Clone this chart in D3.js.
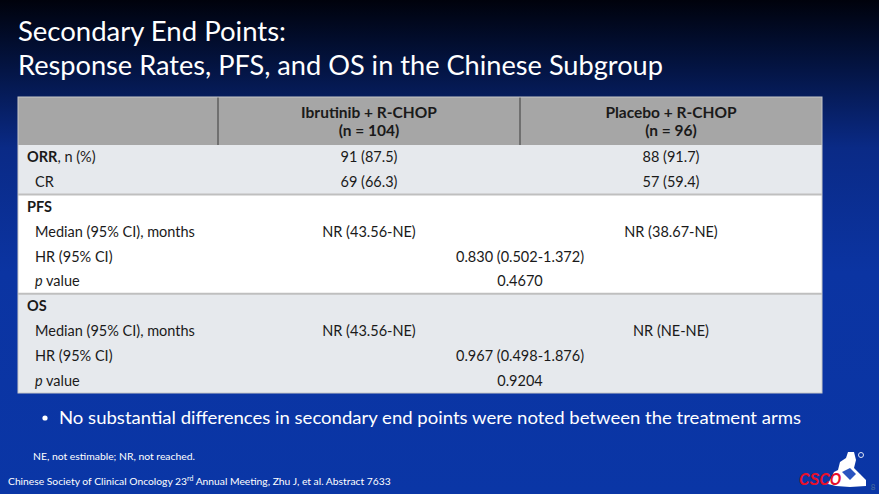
<!DOCTYPE html>
<html>
<head>
<meta charset="utf-8">
<script src="https://cdn.jsdelivr.net/npm/d3@7"></script>
<style>
  body { margin: 0; background: #000; }
  svg { display: block; font-family: Lato, "Open Sans", sans-serif; }
</style>
</head>
<body>
<svg id="slide"></svg>
<script>
var width = 879, height = 494;

// table content
var armNames = ["Ibrutinib + R-CHOP", "Placebo + R-CHOP"];
var armN = ["(n = 104)", "(n = 96)"];
var rowIds = ["orr", "cr", "pfs", "pfsMed", "pfsHr", "pfsP", "os", "osMed", "osHr", "osP"];
var rowLabels = ["ORR", "CR", "PFS", "Median (95% CI), months", "HR (95% CI)", "p value",
                 "OS", "Median (95% CI), months", "HR (95% CI)", "p value"];
var orrVals = ["91 (87.5)", "88 (91.7)"];
var crVals = ["69 (66.3)", "57 (59.4)"];
var pfsMedian = ["NR (43.56-NE)", "NR (38.67-NE)"];
var pfsHR = "0.830 (0.502-1.372)";
var pfsP = "0.4670";
var osMedian = ["NR (43.56-NE)", "NR (NE-NE)"];
var osHR = "0.967 (0.498-1.876)";
var osP = "0.9204";
var sections = [["orr", "cr"], ["pfs", "pfsMed", "pfsHr", "pfsP"], ["os", "osMed", "osHr", "osP"]];

var svg = d3.select("#slide")
    .attr("width", width)
    .attr("height", height);

var defs = svg.append("defs");
var grad = defs.append("linearGradient")
    .attr("id", "bg")
    .attr("x1", 0).attr("y1", 0).attr("x2", 0).attr("y2", 1);
grad.append("stop").attr("offset", "0%").attr("stop-color", "#00020c");
grad.append("stop").attr("offset", "12%").attr("stop-color", "#03123c");
grad.append("stop").attr("offset", "30%").attr("stop-color", "#0a2a86");
grad.append("stop").attr("offset", "55%").attr("stop-color", "#0b34a2");
grad.append("stop").attr("offset", "100%").attr("stop-color", "#0a36a6");

svg.append("rect")
    .attr("width", width)
    .attr("height", height)
    .attr("fill", "url(#bg)");

// title
svg.append("text")
    .attr("x", 18).attr("y", 41)
    .attr("fill", "#fff")
    .style("font-size", "26px")
    .attr("textLength", 268).attr("lengthAdjust", "spacingAndGlyphs")
    .text("Secondary End Points:");
svg.append("text")
    .attr("x", 18).attr("y", 75)
    .attr("fill", "#fff")
    .style("font-size", "26px")
    .attr("textLength", 645).attr("lengthAdjust", "spacingAndGlyphs")
    .text("Response Rates, PFS, and OS in the Chinese Subgroup");

// table geometry via scales
var colEdges = [18, 218, 520, 822];
var y = d3.scaleBand().domain(rowIds).range([145, 393]);
var headTop = 97;
var fs = "14.5px";

var table = svg.append("g").attr("class", "table");

// header
table.append("rect")
    .attr("x", colEdges[0]).attr("y", headTop)
    .attr("width", colEdges[3] - colEdges[0]).attr("height", y.range()[0] - headTop)
    .attr("fill", "#a6a6a6");
table.selectAll("line.div")
    .data([colEdges[1], colEdges[2]])
    .enter().append("line")
    .attr("class", "div")
    .attr("x1", function(d) { return d; }).attr("x2", function(d) { return d; })
    .attr("y1", headTop).attr("y2", y.range()[0])
    .attr("stroke", "#3a3a3a").attr("stroke-width", 1);

var colCenter = function(i) { return (colEdges[i + 1] + colEdges[i + 2]) / 2; };

var head = table.selectAll("g.head")
    .data(armNames)
    .enter().append("g")
    .attr("class", "head");
head.append("text")
    .attr("x", function(d, i) { return colCenter(i); })
    .attr("y", 118)
    .attr("text-anchor", "middle")
    .attr("fill", "#1a1a1a")
    .style("font-size", "15.5px").style("font-weight", "bold")
    .text(function(d) { return d; });
head.append("text")
    .attr("x", function(d, i) { return colCenter(i); })
    .attr("y", 136)
    .attr("text-anchor", "middle")
    .attr("fill", "#1a1a1a")
    .style("font-size", "15.5px").style("font-weight", "bold")
    .text(function(d, i) { return armN[i]; });

// section backgrounds
var secFill = ["#e6e9ed", "#ffffff", "#e6e9ed"];
table.selectAll("rect.sec")
    .data(sections)
    .enter().append("rect")
    .attr("class", "sec")
    .attr("x", colEdges[0])
    .attr("y", function(d) { return y(d[0]); })
    .attr("width", colEdges[3] - colEdges[0])
    .attr("height", function(d) { return y.bandwidth() * d.length; })
    .attr("fill", function(d, i) { return secFill[i]; });

table.selectAll("line.sep")
    .data(sections.slice(1))
    .enter().append("line")
    .attr("class", "sep")
    .attr("x1", colEdges[0]).attr("x2", colEdges[3])
    .attr("y1", function(d) { return y(d[0]); })
    .attr("y2", function(d) { return y(d[0]); })
    .attr("stroke", "#bfbfbf").attr("stroke-width", 2);

table.append("rect")
    .attr("x", colEdges[0]).attr("y", headTop)
    .attr("width", colEdges[3] - colEdges[0]).attr("height", y.range()[1] - headTop)
    .attr("fill", "none")
    .attr("stroke", "#c8c8c8").attr("stroke-width", 1);

// row labels
var bold = { orr: true, pfs: true, os: true };
var labels = table.selectAll("text.lab")
    .data(rowIds)
    .enter().append("text")
    .attr("class", "lab")
    .attr("x", function(d) { return bold[d] ? 27 : 35; })
    .attr("y", function(d) { return y(d) + y.bandwidth() / 2 + 5; })
    .attr("fill", "#1a1a1a")
    .style("font-size", fs);
labels.each(function(d, i) {
    var t = d3.select(this);
    if (d === "orr") {
        t.append("tspan").style("font-weight", "bold").text(rowLabels[i]);
        t.append("tspan").text(", n (%)");
    } else if (d === "pfsP" || d === "osP") {
        t.append("tspan").style("font-style", "italic").text("p");
        t.append("tspan").text(" value");
    } else {
        t.text(rowLabels[i]);
        if (bold[d]) t.style("font-weight", "bold");
    }
});

// values
var cells = [];
[["orr", orrVals], ["cr", crVals], ["pfsMed", pfsMedian], ["osMed", osMedian]].forEach(function(r) {
    r[1].forEach(function(v, i) { cells.push({ row: r[0], x: colCenter(i), v: v }); });
});
[["pfsHr", pfsHR], ["pfsP", pfsP], ["osHr", osHR], ["osP", osP]].forEach(function(r) {
    cells.push({ row: r[0], x: colEdges[2], v: r[1] });
});
table.selectAll("text.val")
    .data(cells)
    .enter().append("text")
    .attr("class", "val")
    .attr("x", function(d) { return d.x; })
    .attr("y", function(d) { return y(d.row) + y.bandwidth() / 2 + 5; })
    .attr("text-anchor", "middle")
    .attr("fill", "#1a1a1a")
    .style("font-size", fs)
    .text(function(d) { return d.v; });

// bullet
svg.append("circle")
    .attr("cx", 45).attr("cy", 418).attr("r", 2.6)
    .attr("fill", "#fff");
svg.append("text")
    .attr("x", 59).attr("y", 424)
    .attr("fill", "#fff")
    .style("font-size", "17px")
    .attr("textLength", 742).attr("lengthAdjust", "spacingAndGlyphs")
    .text("No substantial differences in secondary end points were noted between the treatment arms");

// footnotes
svg.append("text")
    .attr("x", 33).attr("y", 460)
    .attr("fill", "#fff")
    .style("font-size", "9px")
    .attr("textLength", 162).attr("lengthAdjust", "spacingAndGlyphs")
    .text("NE, not estimable; NR, not reached.");

var cite = svg.append("text")
    .attr("x", 8).attr("y", 485)
    .attr("fill", "#fff")
    .style("font-size", "10.3px");
cite.append("tspan").text("Chinese Society of Clinical Oncology 23");
cite.append("tspan").attr("dy", -4).style("font-size", "7px").text("rd");
cite.append("tspan").attr("dy", 4).text(" Annual Meeting, Zhu J, et al. Abstract 7633");

// logo
var logo = svg.append("g").attr("class", "logo");
logo.append("path")
    .attr("d", "M828,484 L834,472 L838,470 L840,462 L846,458 L848,452 L854,452 L856,460 L854,468 L860,474 L866,480 L866,486 L850,487 L836,486 Z")
    .attr("fill", "#ffffff");
logo.append("path")
    .attr("d", "M842,472 L850,468 L856,474 L850,480 Z")
    .attr("fill", "#2a54c0");
logo.append("circle").attr("cx", 861).attr("cy", 455).attr("r", 2.5)
    .attr("fill", "none").attr("stroke", "#dfe6f5").attr("stroke-width", 1);
logo.append("text")
    .attr("x", 799).attr("y", 485)
    .attr("fill", "#e8102a")
    .style("font-size", "16px").style("font-weight", "900").style("font-style", "italic")
    .style("font-family", "'Liberation Sans', Arial, sans-serif")
    .attr("textLength", 42).attr("lengthAdjust", "spacingAndGlyphs")
    .text("CSCO");
svg.append("text")
    .attr("x", 873).attr("y", 490)
    .attr("text-anchor", "middle")
    .attr("fill", "#4a6f9a")
    .style("font-size", "8px")
    .text("8");
</script>
</body>
</html>
